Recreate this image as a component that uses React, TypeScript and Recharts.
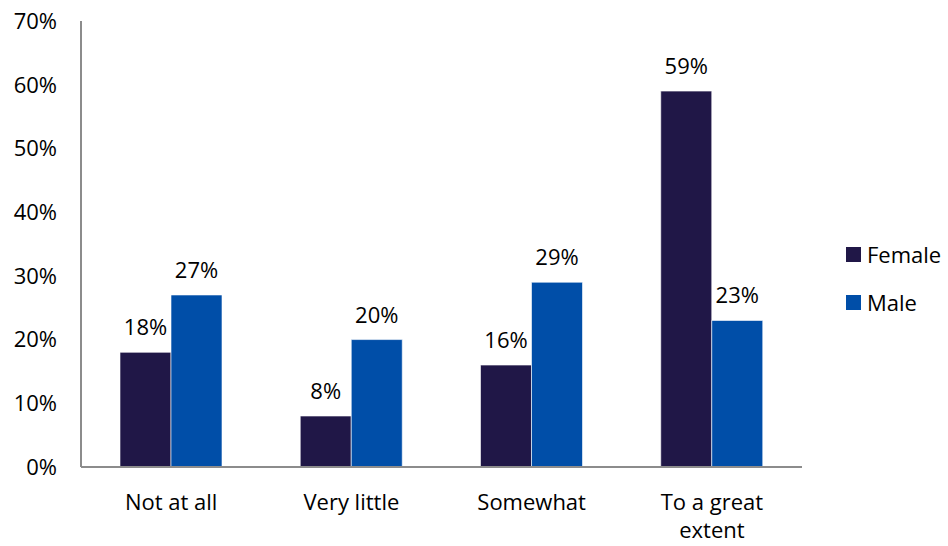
import { BarChart, Bar, XAxis, YAxis, LabelList, Text } from 'recharts';

const categories = ['Not at all', 'Very little', 'Somewhat', 'To a great extent'];
const female = [18, 8, 16, 59];
const male = [27, 20, 29, 23];
const yTicks = [0, 10, 20, 30, 40, 50, 60, 70];
const seriesNames = ['Female', 'Male'];

const FONT = '"Open Sans", sans-serif';
const COLORS = ['#201747', '#004EA8'];
const textStyle = { fontSize: 22, fontFamily: FONT };

const data = categories.map((name, i) => ({ name, Female: female[i], Male: male[i] }));

function CategoryTick({ x, y, payload }: any) {
  return (
    <Text
      x={x}
      y={y}
      width={120}
      textAnchor="middle"
      verticalAnchor="start"
      lineHeight={28}
      style={textStyle}
      fill="#000"
    >
      {payload.value}
    </Text>
  );
}

export default function App() {
  return (
    <div style={{ position: 'absolute', left: 0, top: 0, width: 948, height: 546, background: '#fff' }}>
      <BarChart
        width={948}
        height={546}
        data={data}
        margin={{ top: 21, right: 146, left: 0, bottom: 0 }}
        barCategoryGap={39}
        barGap={0}
      >
        <XAxis
          dataKey="name"
          axisLine={{ stroke: '#8c8c8c', strokeWidth: 2 }}
          tickLine={false}
          tickSize={0}
          tickMargin={27}
          height={79}
          interval={0}
          tick={<CategoryTick />}
        />
        <YAxis
          domain={[0, 70]}
          ticks={yTicks}
          width={81}
          axisLine={{ stroke: '#8c8c8c', strokeWidth: 2 }}
          tickLine={false}
          tickSize={0}
          tickMargin={24}
          tickFormatter={(v: number) => `${v}%`}
          tick={{ ...textStyle, fill: '#000' }}
        />
        {seriesNames.map((s, i) => (
          <Bar key={s} dataKey={s} fill={COLORS[i]} stroke="#ffffff" strokeWidth={0.6} isAnimationActive={false}>
            <LabelList
              dataKey={s}
              position="top"
              offset={17}
              formatter={(v: number) => `${v}%`}
              style={{ ...textStyle, fill: '#000' }}
            />
          </Bar>
        ))}
      </BarChart>
      {/* legend sits in the right margin, outside the plot */}
      <div style={{ position: 'absolute', left: 846, top: 230, fontFamily: FONT, fontSize: 22, color: '#000' }}>
        {seriesNames.map((s, i) => (
          <div key={s} style={{ display: 'flex', alignItems: 'center', height: 48 }}>
            <span style={{ width: 15, height: 15, background: COLORS[i], display: 'inline-block', marginRight: 6 }} />
            <span>{s}</span>
          </div>
        ))}
      </div>
    </div>
  );
}
